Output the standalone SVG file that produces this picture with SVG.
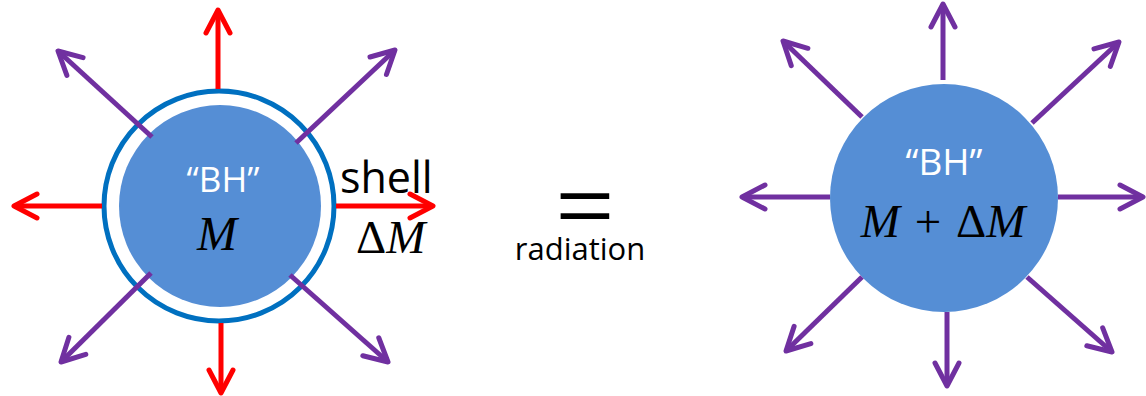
<svg xmlns="http://www.w3.org/2000/svg" width="1146" height="396" viewBox="0 0 1146 396">
<style>
.fill{fill:#558ED5}
.ring{fill:none;stroke:#0070C0;stroke-width:5}
.red{stroke:#FF0000;stroke-width:5;fill:none}
.pur{stroke:#7030A0;stroke-width:5;fill:none}
.bh{font-family:"Open Sans",sans-serif;fill:#fff;text-anchor:middle}
.lbl{font-family:"Open Sans",sans-serif;fill:#000}
.math{font-family:"Liberation Serif",serif;fill:#000}
</style>
<defs>
<marker id="ar" markerUnits="userSpaceOnUse" viewBox="-30 -16 34 32" refX="0" refY="0" markerWidth="34" markerHeight="32" orient="auto">
<path d="M-23,-12 L0,0 L-23,12" fill="none" stroke="#FF0000" stroke-width="5" stroke-linecap="round" stroke-linejoin="round"/>
</marker>
<marker id="ap" markerUnits="userSpaceOnUse" viewBox="-30 -16 34 32" refX="0" refY="0" markerWidth="34" markerHeight="32" orient="auto">
<path d="M-23,-12 L0,0 L-23,12" fill="none" stroke="#7030A0" stroke-width="5" stroke-linecap="round" stroke-linejoin="round"/>
</marker>
</defs>
<rect width="1146" height="396" fill="#fff"/>
<g id="left-bh">
<circle class="ring" cx="219" cy="206" r="115"/>
<circle class="fill" cx="220" cy="206" r="101"/>
<text class="bh" x="223" y="192" font-size="35">“BH”</text>
<text class="math" x="217" y="250" font-size="48" font-style="italic" text-anchor="middle">M</text>
</g>
<g id="shell-label">
<text class="lbl" x="340" y="193" font-size="43">shell</text>
<text class="math" x="356" y="253" font-size="47"><tspan>Δ</tspan><tspan font-style="italic">M</tspan></text>
</g>
<g id="equals">
<text x="585" y="232" font-family="Liberation Sans, sans-serif" font-size="80" text-anchor="middle" fill="#000" transform="translate(585 0) scale(1.25 1) translate(-585 0)">=</text>
<text class="lbl" x="580" y="260" font-size="31" text-anchor="middle">radiation</text>
</g>
<g id="right-bh">
<circle class="fill" cx="944" cy="198" r="114"/>
<text class="bh" x="944" y="175" font-size="37">“BH”</text>
<text class="math" x="943" y="237" font-size="47" text-anchor="middle" xml:space="preserve"><tspan font-style="italic">M</tspan> <tspan dx="3">+</tspan> <tspan dx="3">Δ</tspan><tspan font-style="italic">M</tspan></text>
</g>
<g id="connectors">
<line class="red" x1="218" y1="89" x2="218" y2="10" marker-end="url(#ar)"/>
<line class="red" x1="102" y1="206" x2="14" y2="206" marker-end="url(#ar)"/>
<line class="red" x1="336" y1="206" x2="433" y2="206" marker-end="url(#ar)"/>
<line class="red" x1="221" y1="323" x2="221" y2="393" marker-end="url(#ar)"/>
<line class="pur" x1="152" y1="137" x2="58" y2="51" marker-end="url(#ap)"/>
<line class="pur" x1="296" y1="143" x2="395" y2="50" marker-end="url(#ap)"/>
<line class="pur" x1="151" y1="273" x2="61" y2="362" marker-end="url(#ap)"/>
<line class="pur" x1="290" y1="275" x2="388" y2="362" marker-end="url(#ap)"/>
<line class="pur" x1="943" y1="80" x2="943" y2="4" marker-end="url(#ap)"/>
<line class="pur" x1="830" y1="197" x2="742" y2="197" marker-end="url(#ap)"/>
<line class="pur" x1="1058" y1="197" x2="1143" y2="197" marker-end="url(#ap)"/>
<line class="pur" x1="947" y1="312" x2="947" y2="386" marker-end="url(#ap)"/>
<line class="pur" x1="862" y1="117" x2="783" y2="41" marker-end="url(#ap)"/>
<line class="pur" x1="1032" y1="123" x2="1119" y2="42" marker-end="url(#ap)"/>
<line class="pur" x1="862" y1="277" x2="786" y2="351" marker-end="url(#ap)"/>
<line class="pur" x1="1027" y1="277" x2="1112" y2="352" marker-end="url(#ap)"/>
</g>
</svg>
